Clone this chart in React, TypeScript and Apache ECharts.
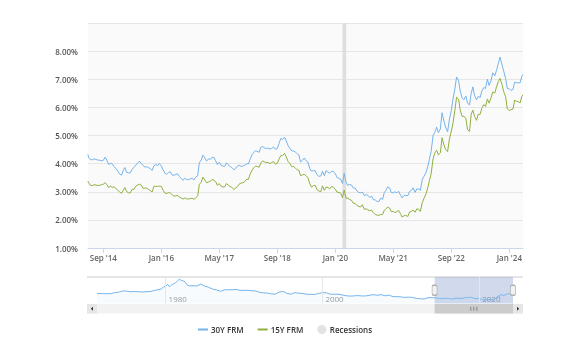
import React, { useEffect, useRef } from "react";
import * as echarts from "echarts";

// ---------- data ----------
const months = [
  "2014-05","2014-06","2014-07","2014-08","2014-09","2014-10","2014-11","2014-12",
  "2015-01","2015-02","2015-03","2015-04","2015-05","2015-06","2015-07","2015-08","2015-09","2015-10","2015-11","2015-12",
  "2016-01","2016-02","2016-03","2016-04","2016-05","2016-06","2016-07","2016-08","2016-09","2016-10","2016-11","2016-12",
  "2017-01","2017-02","2017-03","2017-04","2017-05","2017-06","2017-07","2017-08","2017-09","2017-10","2017-11","2017-12",
  "2018-01","2018-02","2018-03","2018-04","2018-05","2018-06","2018-07","2018-08","2018-09","2018-10","2018-11","2018-12",
  "2019-01","2019-02","2019-03","2019-04","2019-05","2019-06","2019-07","2019-08","2019-09","2019-10","2019-11","2019-12",
  "2020-01","2020-02","2020-03","2020-04","2020-05","2020-06","2020-07","2020-08","2020-09","2020-10","2020-11","2020-12",
  "2021-01","2021-02","2021-03","2021-04","2021-05","2021-06","2021-07","2021-08","2021-09","2021-10","2021-11","2021-12",
  "2022-01","2022-02","2022-03","2022-04","2022-05","2022-06","2022-07","2022-08","2022-09","2022-10","2022-11","2022-12",
  "2023-01","2023-02","2023-03","2023-04","2023-05","2023-06","2023-07","2023-08","2023-09","2023-10","2023-11","2023-12",
  "2024-01","2024-02","2024-03","2024-04",
];
// two readings per month (around the 1st and the 15th)
const frm30 = [
  [4.21,4.14],[4.14,4.17],[4.15,4.13],[4.12,4.10],[4.12,4.23],[4.12,3.97],[4.01,3.99],[3.89,3.83],
  [3.73,3.63],[3.59,3.76],[3.86,3.69],[3.67,3.67],[3.80,3.87],[3.95,4.02],[4.09,4.01],[3.93,3.88],[3.89,3.86],[3.82,3.76],[3.93,3.97],[3.93,4.01],
  [3.92,3.79],[3.65,3.62],[3.68,3.71],[3.59,3.59],[3.61,3.64],[3.54,3.48],[3.41,3.48],[3.43,3.43],[3.46,3.48],[3.42,3.52],[3.57,4.03],[4.13,4.30],
  [4.20,4.09],[4.17,4.16],[4.21,4.23],[4.10,3.97],[4.05,3.95],[3.91,3.90],[4.03,3.96],[3.90,3.86],[3.78,3.83],[3.91,3.94],[3.90,3.92],[3.94,3.99],
  [3.99,4.15],[4.32,4.40],[4.46,4.44],[4.40,4.58],[4.61,4.56],[4.54,4.55],[4.52,4.54],[4.59,4.51],[4.54,4.72],[4.90,4.86],[4.94,4.81],[4.63,4.55],
  [4.45,4.45],[4.41,4.35],[4.31,4.06],[4.12,4.20],[4.10,4.06],[3.82,3.73],[3.75,3.75],[3.60,3.55],[3.56,3.73],[3.57,3.75],[3.69,3.66],[3.73,3.72],
  [3.64,3.51],[3.47,3.45],[3.29,3.65],[3.33,3.23],[3.26,3.24],[3.13,3.13],[3.03,2.98],[2.96,2.99],[2.86,2.90],[2.87,2.80],[2.84,2.72],[2.71,2.66],
  [2.65,2.77],[2.73,2.97],[3.05,3.17],[3.13,2.97],[2.96,3.00],[2.96,3.02],[2.88,2.78],[2.87,2.87],[2.86,3.01],[3.05,3.14],[2.98,3.10],[3.10,3.05],
  [3.45,3.55],[3.69,3.89],[4.16,4.42],[5.00,5.11],[5.30,5.10],[5.23,5.81],[5.51,5.30],[5.13,5.55],[5.89,6.29],[6.66,7.08],[6.95,6.58],[6.33,6.27],
  [6.40,6.15],[6.09,6.50],[6.73,6.42],[6.27,6.39],[6.35,6.57],[6.71,6.67],[7.00,6.78],[6.96,7.23],[7.12,7.31],[7.57,7.79],[7.50,7.29],[7.03,6.67],
  [6.66,6.60],[6.64,6.90],[6.88,6.87],[6.88,7.10],
];
const frm15 = [
  [3.32,3.23],[3.22,3.25],[3.24,3.22],[3.23,3.25],[3.27,3.32],[3.26,3.15],[3.20,3.16],[3.17,3.12],
  [3.05,3.00],[2.94,3.05],[3.15,3.01],[2.96,2.96],[3.09,3.08],[3.20,3.24],[3.27,3.24],[3.12,3.13],[3.13,3.08],[3.05,2.99],[3.20,3.19],[3.19,3.20],
  [3.19,3.06],[2.95,2.94],[2.97,2.96],[2.89,2.85],[2.85,2.87],[2.81,2.78],[2.74,2.78],[2.75,2.74],[2.76,2.77],[2.73,2.78],[2.85,3.26],[3.34,3.52],
  [3.41,3.32],[3.35,3.37],[3.43,3.42],[3.36,3.23],[3.29,3.20],[3.17,3.17],[3.29,3.24],[3.18,3.16],[3.08,3.13],[3.18,3.27],[3.31,3.32],[3.36,3.44],
  [3.44,3.62],[3.77,3.85],[3.91,3.90],[3.87,4.02],[4.10,4.06],[4.04,4.04],[4.00,4.04],[4.07,3.98],[4.01,4.16],[4.29,4.29],[4.36,4.24],[4.07,4.01],
  [3.89,3.90],[3.84,3.78],[3.76,3.57],[3.60,3.62],[3.57,3.51],[3.28,3.16],[3.22,3.23],[3.07,3.03],[3.00,3.21],[3.05,3.17],[3.15,3.10],[3.19,3.16],
  [3.09,2.99],[2.97,2.95],[2.79,3.06],[2.77,2.77],[2.72,2.70],[2.59,2.59],[2.51,2.48],[2.46,2.54],[2.37,2.40],[2.35,2.33],[2.35,2.26],[2.19,2.17],
  [2.16,2.19],[2.19,2.34],[2.40,2.45],[2.42,2.29],[2.30,2.26],[2.29,2.34],[2.22,2.10],[2.15,2.16],[2.12,2.28],[2.30,2.35],[2.27,2.39],[2.38,2.30],
  [2.62,2.77],[2.93,3.14],[3.39,3.63],[4.17,4.38],[4.48,4.31],[4.38,4.92],[4.67,4.50],[4.43,4.85],[5.16,5.44],[5.90,6.36],[6.29,5.90],[5.68,5.68],
  [5.62,5.22],[5.14,5.76],[5.90,5.68],[5.54,5.76],[5.75,5.97],[6.10,6.03],[6.30,6.15],[6.34,6.55],[6.51,6.72],[6.92,7.03],[6.81,6.56],[6.38,5.95],
  [5.89,5.92],[5.94,6.26],[6.21,6.21],[6.16,6.39],
];
const edgeDates = ["2014-04-24", "2024-04-25"];
const frm30Edges = [4.33, 7.17];
const frm15Edges = [3.38, 6.44];

// long history of the 30Y rate for the navigator (before the window)
const navDates = ["1971-04","1971-07","1972-01","1972-07","1973-01","1973-07","1974-01","1974-07","1975-01","1975-07","1976-01","1976-07","1977-01","1977-07","1978-01","1978-07","1979-01","1979-07","1979-10","1980-01","1980-04","1980-07","1980-10","1981-01","1981-04","1981-07","1981-10","1982-01","1982-04","1982-07","1982-10","1983-01","1983-07","1984-01","1984-07","1985-01","1985-07","1986-01","1986-07","1987-01","1987-07","1988-01","1988-07","1989-01","1989-07","1990-01","1990-07","1991-01","1991-07","1992-01","1992-07","1993-01","1993-07","1994-01","1994-07","1995-01","1995-07","1996-01","1996-07","1997-01","1997-07","1998-01","1998-07","1999-01","1999-07","2000-01","2000-07","2001-01","2001-07","2002-01","2002-07","2003-01","2003-07","2004-01","2004-07","2005-01","2005-07","2006-01","2006-07","2007-01","2007-07","2008-01","2008-07","2009-01","2009-07","2010-01","2010-07","2011-01","2011-07","2012-01","2012-07","2013-01","2013-07","2014-01"];
const navValues = [7.3,7.6,7.4,7.4,7.45,8.2,8.5,9.4,9.4,8.9,9.0,8.9,8.7,8.9,9.0,9.7,10.4,11.1,12.5,12.9,14.5,12.6,14.0,14.9,15.6,16.8,18.4,17.4,17.0,16.3,14.0,13.3,13.4,13.2,14.7,13.1,12.2,10.9,10.3,9.2,10.3,10.4,10.4,10.7,9.9,9.9,10.0,9.6,9.5,8.4,8.0,7.9,7.2,7.1,8.6,9.1,7.6,7.0,8.2,7.8,7.5,7.0,6.9,6.8,7.6,8.2,8.1,7.0,7.0,7.0,6.5,5.9,5.6,5.7,6.0,5.7,5.7,6.2,6.7,6.2,6.7,5.8,6.4,5.1,5.2,5.0,4.6,4.8,4.6,3.9,3.55,3.4,4.4,4.45];

const windowRange = ["2014-04-25", "2024-04-25"];
const navRange = ["1971-04-02", "2024-04-25"];
const recession = ["2020-03-01", "2020-04-01"];
const xTickDates = ["2014-09-01","2016-01-01","2017-05-01","2018-09-01","2020-01-01","2021-05-01","2022-09-01","2024-01-01"];
const navTickDates = ["1980-01-01", "2000-01-01", "2020-01-01"];
const yTicks = [1, 2, 3, 4, 5, 6, 7, 8];
const monthNames = ["Jan","Feb","Mar","Apr","May","Jun","Jul","Aug","Sep","Oct","Nov","Dec"];
const seriesNames = ["30Y FRM", "15Y FRM", "Recessions"];

const FONT = '"Open Sans", "Noto Sans", sans-serif';
const BLUE = "#74b3ea";
const GREEN = "#8fb03e";
const LINE_ICON = "path://M0,0H10V2H0Z";

const ts = (s: string) => new Date(s.length === 7 ? s + "-01T00:00:00" : s + "T00:00:00").getTime();

function buildSeries(pairs: number[][], edges: number[]) {
  const out: [number, number][] = [[ts(edgeDates[0]), edges[0]]];
  months.forEach((m, i) => {
    out.push([ts(m + "-01"), pairs[i][0]]);
    out.push([ts(m + "-15"), pairs[i][1]]);
  });
  out.push([ts(edgeDates[1]), edges[1]]);
  return out;
}

export default function App() {
  const ref = useRef<HTMLDivElement>(null);
  useEffect(() => {
    if (!ref.current) return;
    const chart = echarts.init(ref.current, undefined, { renderer: "svg" });
    const d30 = buildSeries(frm30, frm30Edges);
    const d15 = buildSeries(frm15, frm15Edges);
    const navData: [number, number][] = navDates.map((d, i) => [ts(d), navValues[i]] as [number, number]).concat(d30);
    const xTicks = xTickDates.map(ts);
    const navTicks = navTickDates.map(ts);
    const winMid = (ts(windowRange[0]) + ts(windowRange[1])) / 2;

    chart.setOption({
      animation: false,
      textStyle: { fontFamily: FONT },
      legend: {
        top: 320,
        left: "center",
        itemWidth: 10,
        itemHeight: 9,
        itemGap: 14,
        symbolKeepAspect: true,
        textStyle: { fontSize: 8, fontWeight: 600, color: "#333", fontFamily: FONT, padding: [0, 0, 0, -2] },
        data: [
          { name: seriesNames[0], icon: LINE_ICON },
          { name: seriesNames[1], icon: LINE_ICON },
          { name: seriesNames[2], icon: "circle" },
        ],
        selectedMode: false,
      },
      grid: [
        { left: 88, right: 47, top: 23, bottom: 108, show: true, backgroundColor: "#fafafa", borderWidth: 0 },
        { left: 97, right: 57, top: 277, height: 26.5 },
        { left: 97, right: 57, top: 304, height: 9.5 },
      ],
      xAxis: [
        {
          type: "value", gridIndex: 0, min: ts(windowRange[0]), max: ts(windowRange[1]),
          axisLine: { lineStyle: { color: "#ccd6eb" } },
          axisTick: { show: true, customValues: xTicks, length: 5, lineStyle: { color: "#ccd6eb" } },
          axisLabel: {
            customValues: xTicks, margin: 5, color: "#666", fontSize: 8, fontWeight: 600, fontFamily: FONT,
            hideOverlap: false,
            formatter: (v: number) => {
              const d = new Date(v);
              return monthNames[d.getMonth()] + " '" + String(d.getFullYear()).slice(2);
            },
          },
          splitLine: { show: false },
        },
        {
          type: "value", gridIndex: 1, min: ts(navRange[0]), max: ts(navRange[1]),
          axisLine: { show: false }, axisTick: { show: false, customValues: navTicks },
          splitLine: { show: false },
          axisLabel: {
            customValues: navTicks, inside: true, align: "left", margin: 1, padding: [0, 0, 0, 3],
            color: "#999", fontSize: 8, fontFamily: FONT, hideOverlap: false,
            formatter: (v: number) => String(new Date(v).getFullYear()),
          },
        },
        { type: "value", gridIndex: 2, min: ts(navRange[0]), max: ts(navRange[1]), show: false },
      ],
      yAxis: [
        {
          type: "value", gridIndex: 0, min: 1, max: 9, interval: 1,
          axisLine: { show: false }, axisTick: { show: false },
          splitLine: { lineStyle: { color: "#e6e6e6" } },
          axisLabel: {
            margin: 10, color: "#555", fontSize: 8, fontWeight: 600, fontFamily: FONT, padding: [0, 0, 7, 0],
            formatter: (v: number) => (yTicks.indexOf(v) >= 0 ? v.toFixed(2) + "%" : ""),
          },
        },
        { type: "value", gridIndex: 1, min: 0, max: 20, show: false },
        { type: "value", gridIndex: 2, min: 0, max: 1, show: false },
      ],
      series: [
        {
          name: seriesNames[2], type: "line", xAxisIndex: 0, yAxisIndex: 0, data: [], symbol: "none",
          itemStyle: { color: "#e3e3e3" }, lineStyle: { color: "#e3e3e3" }, silent: true,
          markArea: {
            silent: true, label: { show: false },
            itemStyle: { color: "#dedede" },
            data: [[{ xAxis: ts(recession[0]) }, { xAxis: ts(recession[1]) }]],
          },
        },
        {
          name: seriesNames[0], type: "line", xAxisIndex: 0, yAxisIndex: 0, data: d30, symbol: "none",
          lineStyle: { color: BLUE, width: 1 }, itemStyle: { color: BLUE }, silent: true,
        },
        {
          name: seriesNames[1], type: "line", xAxisIndex: 0, yAxisIndex: 0, data: d15, symbol: "none",
          lineStyle: { color: GREEN, width: 1 }, itemStyle: { color: GREEN }, silent: true,
        },
        {
          name: "nav", type: "line", xAxisIndex: 1, yAxisIndex: 1, data: navData, symbol: "none", silent: true,
          lineStyle: { color: BLUE, width: 1 }, itemStyle: { color: BLUE },
          areaStyle: { color: "rgba(124,181,236,0.08)" },
          markLine: {
            silent: true, symbol: ["none", "none"], label: { show: false },
            lineStyle: { color: "#e6e6e6", type: "solid", width: 1 },
            data: navTicks.map((t) => ({ xAxis: t })),
          },
          markArea: {
            silent: true, label: { show: false },
            itemStyle: { color: "rgba(102,133,194,0.3)" },
            data: [[{ xAxis: ts(windowRange[0]) }, { xAxis: ts(windowRange[1]) }]],
          },
          markPoint: {
            silent: true, symbol: "roundRect", symbolSize: [5, 10], label: { show: false },
            itemStyle: { color: "#f2f2f2", borderColor: "#b0b0b0", borderWidth: 1 },
            data: [{ coord: [ts(windowRange[0]), 10] }, { coord: [ts(windowRange[1]), 10] }],
          },
        },
        {
          name: "scroll", type: "line", xAxisIndex: 2, yAxisIndex: 2, data: [], symbol: "none", silent: true,
          markArea: {
            silent: true, label: { show: false }, itemStyle: { color: "#cccccc" },
            data: [[{ xAxis: ts(windowRange[0]) }, { xAxis: ts(windowRange[1]) }]],
          },
          markPoint: {
            silent: true, label: { show: false },
            symbol: "path://M0,0H1V8H0Z M3,0H4V8H3Z M6,0H7V8H6Z", symbolSize: [7, 4],
            itemStyle: { color: "#888" },
            data: [{ coord: [winMid, 0.5] }],
          },
        },
      ],
      graphic: [
        { type: "rect", z: 0, shape: { x: 87, y: 304, width: 436, height: 9.5 }, style: { fill: "#f2f2f2" } },
        { type: "rect", z: 1, shape: { x: 87, y: 304, width: 10, height: 9.5 }, style: { fill: "#e6e6e6" } },
        { type: "rect", z: 1, shape: { x: 513, y: 304, width: 10, height: 9.5 }, style: { fill: "#e6e6e6" } },
        { type: "polygon", z: 2, shape: { points: [[93, 306.8], [93, 310.8], [90.8, 308.8]] }, style: { fill: "#333" } },
        { type: "polygon", z: 2, shape: { points: [[517, 306.8], [517, 310.8], [519.2, 308.8]] }, style: { fill: "#333" } },
        { type: "line", z: 1, shape: { x1: 87, y1: 277, x2: 523, y2: 277 }, style: { stroke: "#cccccc", lineWidth: 1 } },
      ],
    });
    return () => chart.dispose();
  }, []);
  return <div ref={ref} style={{ position: "fixed", left: 0, top: 0, width: 570, height: 356 }} />;
}
